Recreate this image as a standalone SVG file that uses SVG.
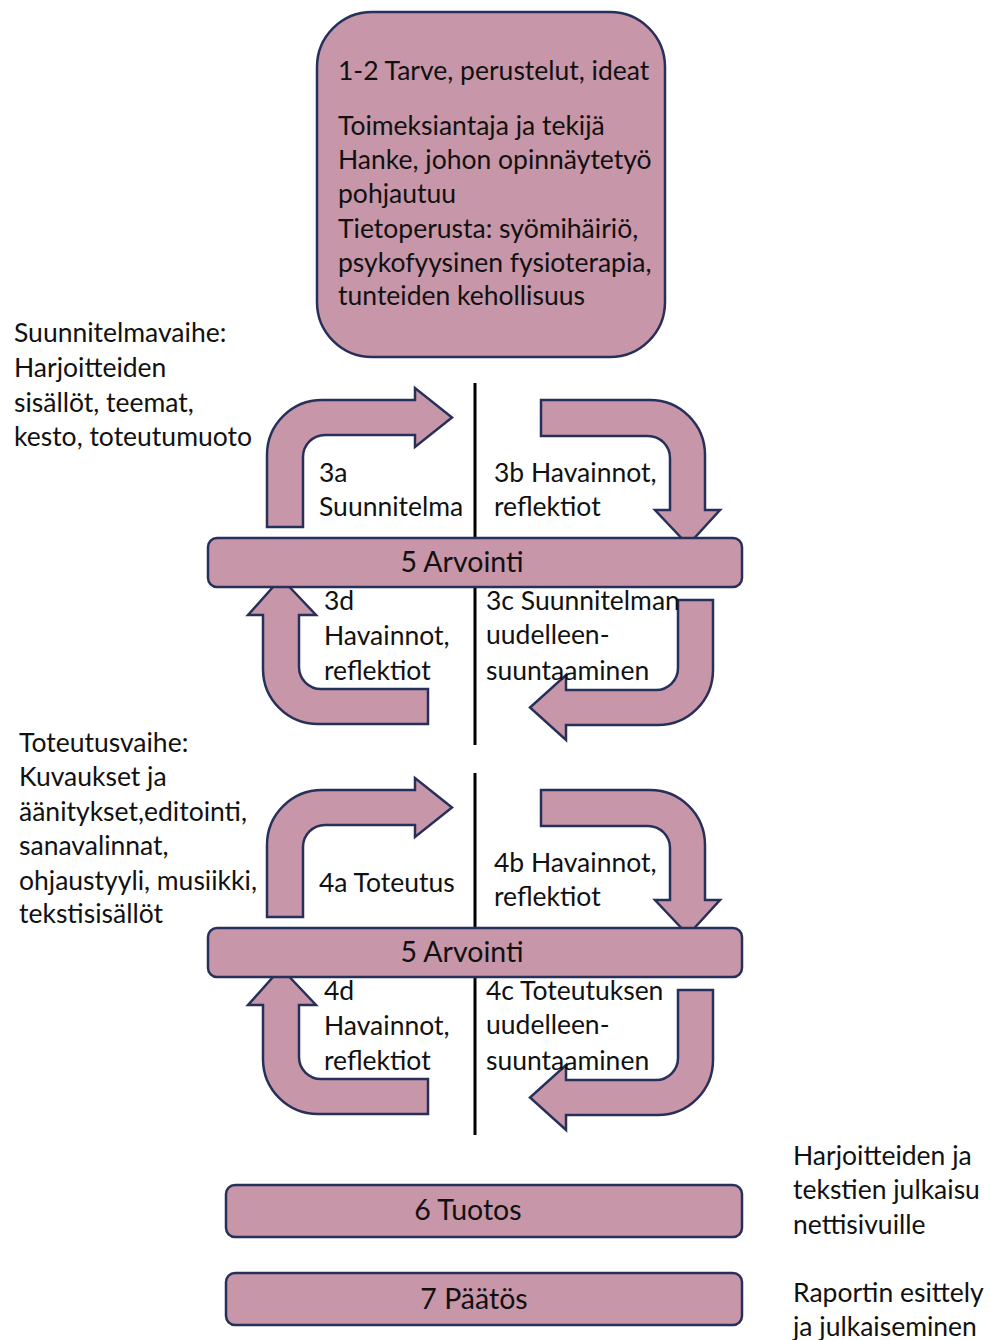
<svg xmlns="http://www.w3.org/2000/svg" width="990" height="1340" viewBox="0 0 990 1340">
<style>
.s{fill:#C796A8;stroke:#27305A;stroke-width:2.5;stroke-linejoin:miter}
.t{font-family:Lato,"Liberation Sans",sans-serif;font-size:26.5px;fill:#111}
.c{text-anchor:middle;font-size:28.5px}
.ln{stroke:#000;stroke-width:3}
</style>
<rect width="990" height="1340" fill="#fff"/>
<g id="top-box">
<rect class="s" x="317" y="12" width="348" height="345" rx="55"/>
<text class="t" x="338" y="80">1-2 Tarve, perustelut, ideat</text>
<text class="t" x="338" y="135">Toimeksiantaja ja tekijä</text>
<text class="t" x="338" y="169">Hanke, johon opinnäytetyö</text>
<text class="t" x="338" y="203">pohjautuu</text>
<text class="t" x="338" y="238">Tietoperusta: syömihäiriö,</text>
<text class="t" x="338" y="272">psykofyysinen fysioterapia,</text>
<text class="t" x="338" y="305">tunteiden kehollisuus</text>
</g>
<g id="label-suunnitelmavaihe">
<text class="t" x="14" y="342">Suunnitelmavaihe:</text>
<text class="t" x="14" y="377">Harjoitteiden</text>
<text class="t" x="14" y="412">sisällöt, teemat,</text>
<text class="t" x="14" y="446">kesto, toteutumuoto</text>
</g>
<g id="label-toteutusvaihe">
<text class="t" x="19" y="752">Toteutusvaihe:</text>
<text class="t" x="19" y="786">Kuvaukset ja</text>
<text class="t" x="19" y="821">äänitykset,editointi,</text>
<text class="t" x="19" y="855">sanavalinnat,</text>
<text class="t" x="19" y="890">ohjaustyyli, musiikki,</text>
<text class="t" x="19" y="923">tekstisisällöt</text>
</g>
<g id="connectors">
<line class="ln" x1="475" y1="383" x2="475" y2="745"/>
<line class="ln" x1="475" y1="773" x2="475" y2="1135"/>
</g>
<g id="cycle1">
<g id="arrow-3a"><path class="s" d="M267 527 L267 455 A55 55 0 0 1 322 400 L415 400 L415 388 L452 417.5 L415 447 L415 435 L325 435 A22 22 0 0 0 303 457 L303 527 Z"/></g>
<g id="arrow-3b"><path class="s" d="M541 400 L650 400 A55 55 0 0 1 705 455 L705 510 L720 510 L688 545 L655 510 L670 510 L670 458 A22 22 0 0 0 648 436 L541 436 Z"/></g>
<g id="arrow-3c"><path class="s" d="M678 600 L713 600 L713 670 A55 55 0 0 1 658 725 L566 725 L566 740 L530 707.5 L566 675 L566 690 L656 690 A22 22 0 0 0 678 668 Z"/></g>
<g id="arrow-3d"><path class="s" d="M428 724 L318 724 A55 55 0 0 1 263 669 L263 615 L248 615 L281 578 L316 615 L299 615 L299 667 A22 22 0 0 0 321 689 L428 689 Z"/></g>
<g id="bar-5a"><rect class="s" x="208" y="538" width="534" height="49" rx="9"/><text class="t c" x="462" y="572">5 Arvointi</text></g>
<g id="label-3a"><text class="t" x="319" y="482">3a</text><text class="t" x="319" y="516">Suunnitelma</text></g>
<g id="label-3b"><text class="t" x="494" y="482">3b Havainnot,</text><text class="t" x="494" y="516">reflektiot</text></g>
<g id="label-3d"><text class="t" x="324" y="610">3d</text><text class="t" x="324" y="645">Havainnot,</text><text class="t" x="324" y="680">reflektiot</text></g>
<g id="label-3c"><text class="t" x="486" y="610">3c Suunnitelman</text><text class="t" x="486" y="644">uudelleen-</text><text class="t" x="486" y="680">suuntaaminen</text></g>
</g>
<g id="cycle2" transform="translate(0,390)">
<g id="arrow-4a"><path class="s" d="M267 527 L267 455 A55 55 0 0 1 322 400 L415 400 L415 388 L452 417.5 L415 447 L415 435 L325 435 A22 22 0 0 0 303 457 L303 527 Z"/></g>
<g id="arrow-4b"><path class="s" d="M541 400 L650 400 A55 55 0 0 1 705 455 L705 510 L720 510 L688 545 L655 510 L670 510 L670 458 A22 22 0 0 0 648 436 L541 436 Z"/></g>
<g id="arrow-4c"><path class="s" d="M678 600 L713 600 L713 670 A55 55 0 0 1 658 725 L566 725 L566 740 L530 707.5 L566 675 L566 690 L656 690 A22 22 0 0 0 678 668 Z"/></g>
<g id="arrow-4d"><path class="s" d="M428 724 L318 724 A55 55 0 0 1 263 669 L263 615 L248 615 L281 578 L316 615 L299 615 L299 667 A22 22 0 0 0 321 689 L428 689 Z"/></g>
<g id="bar-5b"><rect class="s" x="208" y="538" width="534" height="49" rx="9"/><text class="t c" x="462" y="572">5 Arvointi</text></g>
<g id="label-4a"><text class="t" x="319" y="502">4a Toteutus</text></g>
<g id="label-4b"><text class="t" x="494" y="482">4b Havainnot,</text><text class="t" x="494" y="516">reflektiot</text></g>
<g id="label-4d"><text class="t" x="324" y="610">4d</text><text class="t" x="324" y="645">Havainnot,</text><text class="t" x="324" y="680">reflektiot</text></g>
<g id="label-4c"><text class="t" x="486" y="610">4c Toteutuksen</text><text class="t" x="486" y="644">uudelleen-</text><text class="t" x="486" y="680">suuntaaminen</text></g>
</g>
<g id="bar-6"><rect class="s" x="226" y="1185" width="516" height="52" rx="9"/><text class="t c" x="468" y="1220">6 Tuotos</text></g>
<g id="bar-7"><rect class="s" x="226" y="1273" width="516" height="52" rx="9"/><text class="t c" x="474" y="1309">7 Päätös</text></g>
<g id="label-6"><text class="t" x="793" y="1165">Harjoitteiden ja</text><text class="t" x="793" y="1199">tekstien julkaisu</text><text class="t" x="793" y="1234">nettisivuille</text></g>
<g id="label-7"><text class="t" x="793" y="1302">Raportin esittely</text><text class="t" x="793" y="1336">ja julkaiseminen</text></g>
</svg>
